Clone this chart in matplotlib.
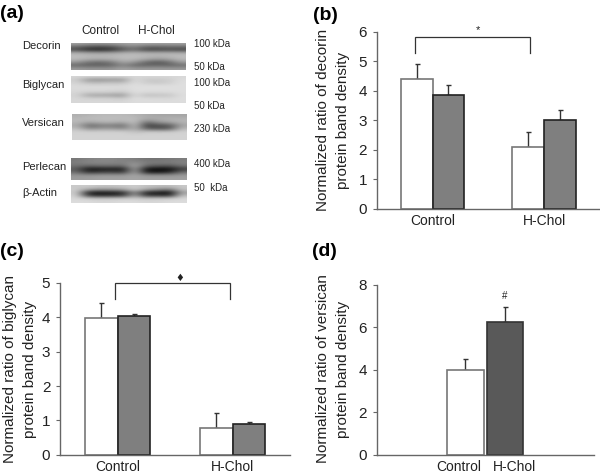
import matplotlib
matplotlib.use('Agg')
import matplotlib.pyplot as plt
import numpy as np

plt.rcParams['font.family'] = ['Liberation Sans', 'DejaVu Sans']
plt.rcParams['text.color'] = '#222222'

W, H = 600, 474

groups = ['Control', 'H-Chol']

decorin = [4.4, 2.1]
decorin_dark = [3.85, 3.0]
decorin_err = [0.5, 0.5]
decorin_dark_err = [0.35, 0.35]

biglycan = [3.98, 0.78]
biglycan_dark = [4.05, 0.9]
biglycan_err = [0.44, 0.44]
biglycan_dark_err = [0.05, 0.05]

versican = [3.97, 6.25]
versican_err = [0.53, 0.68]

blot_names = ['Decorin', 'Biglycan', 'Versican', 'Perlecan', 'β-Actin']
kda_labels = ['100 kDa', '50 kDa', '100 kDa', '50 kDa', '230 kDa', '400 kDa', '50  kDa']

blot_decorin = [
    [165, 160, 155, 160, 165, 170, 170, 165, 165, 165],
    [110, 85, 80, 85, 120, 135, 105, 105, 110, 110],
    [75, 45, 40, 50, 85, 110, 70, 70, 75, 70],
    [175, 165, 160, 165, 175, 180, 175, 175, 175, 175],
    [190, 185, 185, 185, 190, 190, 185, 180, 185, 190],
    [185, 175, 170, 175, 185, 185, 170, 155, 165, 185],
    [150, 115, 105, 120, 165, 150, 105, 85, 105, 155],
    [105, 95, 95, 100, 135, 105, 100, 105, 100, 110],
    [155, 150, 150, 150, 165, 155, 155, 155, 155, 155],
]
blot_biglycan = [
    [215, 215, 215, 215, 215, 215, 215, 215, 215, 215],
    [205, 150, 145, 155, 150, 220, 200, 200, 205, 220],
    [212, 190, 190, 195, 190, 222, 205, 200, 205, 222],
    [218, 218, 218, 218, 218, 222, 222, 222, 222, 222],
    [218, 218, 218, 218, 215, 222, 222, 222, 222, 222],
    [215, 208, 208, 208, 200, 222, 218, 218, 218, 222],
    [212, 165, 165, 160, 150, 220, 190, 195, 195, 220],
    [215, 210, 210, 210, 200, 222, 218, 218, 215, 222],
    [215, 215, 215, 215, 215, 220, 220, 220, 220, 220],
]
blot_versican = [
    [175, 180, 185, 185, 185, 180, 170, 165, 165, 165],
    [185, 190, 190, 190, 190, 190, 170, 175, 180, 180],
    [185, 165, 180, 180, 170, 195, 110, 150, 165, 180],
    [170, 105, 125, 125, 110, 195, 60, 80, 85, 165],
    [190, 140, 155, 155, 140, 180, 95, 85, 90, 185],
    [210, 210, 210, 210, 210, 190, 205, 205, 205, 210],
    [210, 210, 210, 210, 210, 210, 210, 210, 210, 210],
    [212, 212, 212, 212, 212, 212, 212, 212, 212, 212],
]
blot_perlecan = [
    [120, 130, 135, 135, 130, 125, 115, 115, 120, 125],
    [125, 135, 135, 135, 130, 145, 125, 125, 125, 130],
    [115, 100, 110, 110, 105, 170, 100, 90, 85, 115],
    [90, 20, 25, 30, 25, 170, 15, 10, 10, 60],
    [110, 50, 65, 70, 55, 170, 30, 25, 40, 110],
    [150, 150, 155, 155, 155, 165, 150, 150, 150, 155],
    [155, 155, 160, 160, 160, 165, 160, 160, 160, 160],
]
blot_actin = [
    [200, 205, 195, 195, 200, 205, 195, 190, 190, 200],
    [205, 165, 150, 155, 160, 205, 165, 145, 120, 195],
    [205, 30, 20, 25, 40, 150, 30, 25, 10, 160],
    [210, 60, 45, 50, 60, 170, 55, 60, 45, 190],
    [215, 205, 200, 205, 205, 205, 200, 205, 205, 215],
    [220, 220, 215, 215, 220, 220, 215, 215, 220, 220],
]


def px_axes(left, top, right, bottom):
    return fig.add_axes([left / W, 1 - bottom / H, (right - left) / W, (bottom - top) / H])


def px_text(x, y, s, **kw):
    kw.setdefault('va', 'center')
    fig.text(x / W, 1 - y / H, s, **kw)


def style_axes(ax, yticks):
    for s in ['top', 'right']:
        ax.spines[s].set_visible(False)
    for s in ['left', 'bottom']:
        ax.spines[s].set_color('#666666')
        ax.spines[s].set_linewidth(1)
    ax.set_yticks(yticks)
    ax.tick_params(axis='y', length=3, width=0.8, color='#666666', labelsize=11, pad=4, labelcolor='#222222')
    ax.tick_params(axis='x', length=0, labelsize=10, pad=3.5, labelcolor='#222222')


def bars(ax, x, vals, errs, width, face, edge):
    ax.bar(x, vals, width, color=face, edgecolor=edge, linewidth=1.2, zorder=2)
    ax.errorbar(x, vals, yerr=[np.zeros(len(vals)), errs], fmt='none', ecolor='#333333',
                elinewidth=1, capsize=1.8, capthick=1, zorder=1)


def bracket(ax, x0, x1, y0, y1):
    ax.plot([x0, x0, x1, x1], [y0, y1, y1, y0], color='#333333', lw=0.9, clip_on=False,
            solid_joinstyle='miter')


fig = plt.figure(figsize=(W / 100, H / 100), dpi=100)

# (a) blots
blots = [blot_decorin, blot_biglycan, blot_versican, blot_perlecan, blot_actin]
boxes = [(71, 42.5, 186, 70), (71, 75.5, 186, 103), (72, 114, 186.5, 140),
         (71, 158, 186.5, 180), (71, 185, 186.5, 203)]
for blot, box in zip(blots, boxes):
    ax = px_axes(*box)
    ax.imshow(np.array(blot), cmap='gray', vmin=0, vmax=255, aspect='auto', interpolation='bicubic')
    ax.axis('off')

for name, y in zip(blot_names, [46, 84.5, 123, 166.5, 192.5]):
    px_text(22, y, name, fontsize=8, ha='left')
for lab, y in zip(kda_labels, [44, 67.5, 82.5, 106, 129.5, 164.5, 188]):
    px_text(193.5, y, lab, fontsize=7, ha='left')
px_text(100, 31.5, groups[0], fontsize=8.5, ha='center')
px_text(156.5, 31.5, groups[1], fontsize=8.5, ha='center')

# (b) decorin
x = np.arange(len(groups))
bw = 0.285
ax = px_axes(376.7, 31.7, 600, 208.7)
bars(ax, x - bw / 2, decorin, decorin_err, bw, 'white', '#777777')
bars(ax, x + bw / 2, decorin_dark, decorin_dark_err, bw, '#7f7f7f', '#222222')
ax.set_xlim(-0.5, 1.5)
ax.set_ylim(0, 6)
ax.set_xticks(x)
ax.set_xticklabels(groups)
style_axes(ax, range(0, 7))
bracket(ax, -0.158, 0.871, 5.27, 5.81)
px_text(477.5, 30, '*', fontsize=8, ha='center')

# (c) biglycan
ax = px_axes(60, 283, 290, 454.7)
bars(ax, x - bw / 2, biglycan, biglycan_err, bw, 'white', '#777777')
bars(ax, x + bw / 2, biglycan_dark, biglycan_dark_err, bw, '#7f7f7f', '#222222')
ax.set_xlim(-0.5, 1.5)
ax.set_ylim(0, 5)
ax.set_xticks(x)
ax.set_xticklabels(groups)
style_axes(ax, range(0, 6))
bracket(ax, -0.025, 0.98, 4.53, 5.0)
px_text(180, 278, '♦', fontsize=7, ha='center', family=['DejaVu Sans'])

# (d) versican, labels sit apart from the bars in the original
ax = px_axes(376.7, 284.7, 594, 455)
ax.bar(x[0], versican[0], 0.92, color='white', edgecolor='#777777', linewidth=1.2, zorder=2)
ax.bar(x[1], versican[1], 0.92, color='#595959', edgecolor='#333333', linewidth=1.2, zorder=2)
ax.errorbar(x, versican, yerr=[np.zeros(2), versican_err], fmt='none', ecolor='#333333',
            elinewidth=1, capsize=1.8, capthick=1, zorder=1)
ax.set_xlim(-2.265, 3.278)
ax.set_ylim(0, 8)
ax.set_xticks([-0.166, 1.26])
ax.set_xticklabels(groups)
style_axes(ax, range(0, 9, 2))
px_text(505, 296, '#', fontsize=7, ha='center')

# y labels and panel letters
px_text(323, 120, 'Normalized ratio of decorin', fontsize=11, rotation=90, ha='center')
px_text(343, 120, 'protein band density', fontsize=11, rotation=90, ha='center')
px_text(10, 369, 'Normalized ratio of biglycan', fontsize=11, rotation=90, ha='center')
px_text(30, 369, 'protein band density', fontsize=11, rotation=90, ha='center')
px_text(323, 369, 'Normalized ratio of versican', fontsize=11, rotation=90, ha='center')
px_text(343, 369, 'protein band density', fontsize=11, rotation=90, ha='center')

for lab, lx, ly in [('(a)', 0, 14), ('(b)', 313, 15), ('(c)', 0, 251), ('(d)', 312, 252)]:
    px_text(lx, ly, lab, fontsize=14, fontweight='bold', ha='left', color='black')

fig.savefig('out.png', dpi=100)
